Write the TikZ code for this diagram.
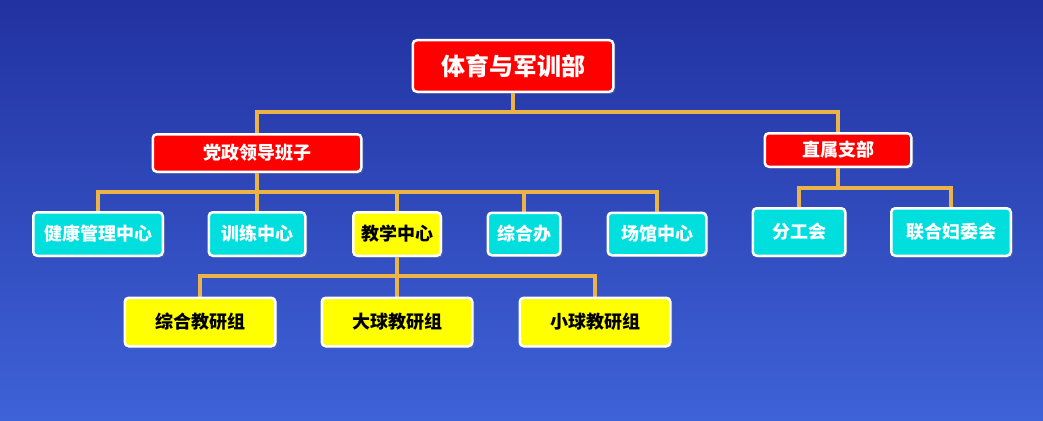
\documentclass[tikz,border=0pt]{standalone}
\usepackage{fontspec}
\setmainfont{Noto Sans CJK SC}
\usetikzlibrary{shadows}
\definecolor{bgtop}{RGB}{34,50,160}
\definecolor{bgbot}{RGB}{62,98,216}
\definecolor{gold}{RGB}{236,180,72}
\definecolor{boxred}{RGB}{255,0,0}
\definecolor{boxcyan}{RGB}{0,222,222}
\definecolor{boxyel}{RGB}{255,255,0}
\pgfdeclarelayer{bglayer}
\pgfdeclarelayer{lines}
\pgfsetlayers{bglayer,lines,main}
\tikzset{
  box/.style={draw=white, line width=2.5pt, rounded corners=4pt, inner sep=0pt,
    font=\bfseries\fontsize{18}{21}\selectfont,
    drop shadow={opacity=0.35, shadow xshift=2pt, shadow yshift=-2pt}},
  redbox/.style={box, fill=boxred, text=white},
  cyanbox/.style={box, fill=boxcyan, text=white},
  yelbox/.style={box, fill=boxyel, text=black},
  conn/.style={draw=gold, line width=4pt, line cap=rect}
}
\begin{document}
\begin{tikzpicture}[x=1pt,y=-1pt]
\begin{pgfonlayer}{bglayer}
  \shade[top color=bgtop, bottom color=bgbot] (0,0) rectangle (1043,420);
\end{pgfonlayer}
\useasboundingbox (0,0) rectangle (1043,420);

% level 0
\node[redbox, minimum width=200.5pt, minimum height=51.5pt, font=\bfseries\fontsize{24}{27}\selectfont] (top) at (513,66) {体育与军训部};
% level 1
\node[redbox, minimum width=208.5pt, minimum height=37.5pt] (dz) at (257,153) {党政领导班子};
\node[redbox, minimum width=146.5pt, minimum height=33.5pt] (zs) at (838,150) {直属支部};
% level 2
\node[cyanbox, minimum width=129.5pt, minimum height=43.5pt] (jk) at (98,234) {健康管理中心};
\node[cyanbox, minimum width=96.5pt, minimum height=43.5pt] (xl) at (257,234) {训练中心};
\node[yelbox, minimum width=87.5pt, minimum height=43.5pt] (jx) at (397,234) {教学中心};
\node[cyanbox, minimum width=72.5pt, minimum height=42.5pt] (zh) at (524,234) {综合办};
\node[cyanbox, minimum width=98.5pt, minimum height=42.5pt] (cg) at (657,234) {场馆中心};
\node[cyanbox, minimum width=92.5pt, minimum height=47.5pt] (fg) at (799,232) {分工会};
\node[cyanbox, minimum width=119.5pt, minimum height=47.5pt] (lh) at (951,232) {联合妇委会};
% level 3
\node[yelbox, minimum width=150.5pt, minimum height=48.5pt] (zj) at (200,322) {综合教研组};
\node[yelbox, minimum width=150.5pt, minimum height=48.5pt] (dq) at (397,322) {大球教研组};
\node[yelbox, minimum width=150.5pt, minimum height=48.5pt] (xq) at (595,322) {小球教研组};

\begin{pgfonlayer}{lines}
  \path[conn] (top.south) -- (top.south |- 0,112);
  \path[conn] (dz.north) |- (zs.north |- 0,112) -- (zs.north);
  \path[conn] (dz.south) -- (xl.north);
  \path[conn] (jk.north) |- (cg.north |- 0,192) -- (cg.north);
  \path[conn] (jx.north) -- (jx.north |- 0,192);
  \path[conn] (zh.north) -- (zh.north |- 0,192);
  \path[conn] (zs.south) -- (zs.south |- 0,188);
  \path[conn] (fg.north) |- (lh.north |- 0,188) -- (lh.north);
  \path[conn] (jx.south) -- (dq.north);
  \path[conn] (zj.north) |- (xq.north |- 0,276) -- (xq.north);
\end{pgfonlayer}
\end{tikzpicture}
\end{document}
